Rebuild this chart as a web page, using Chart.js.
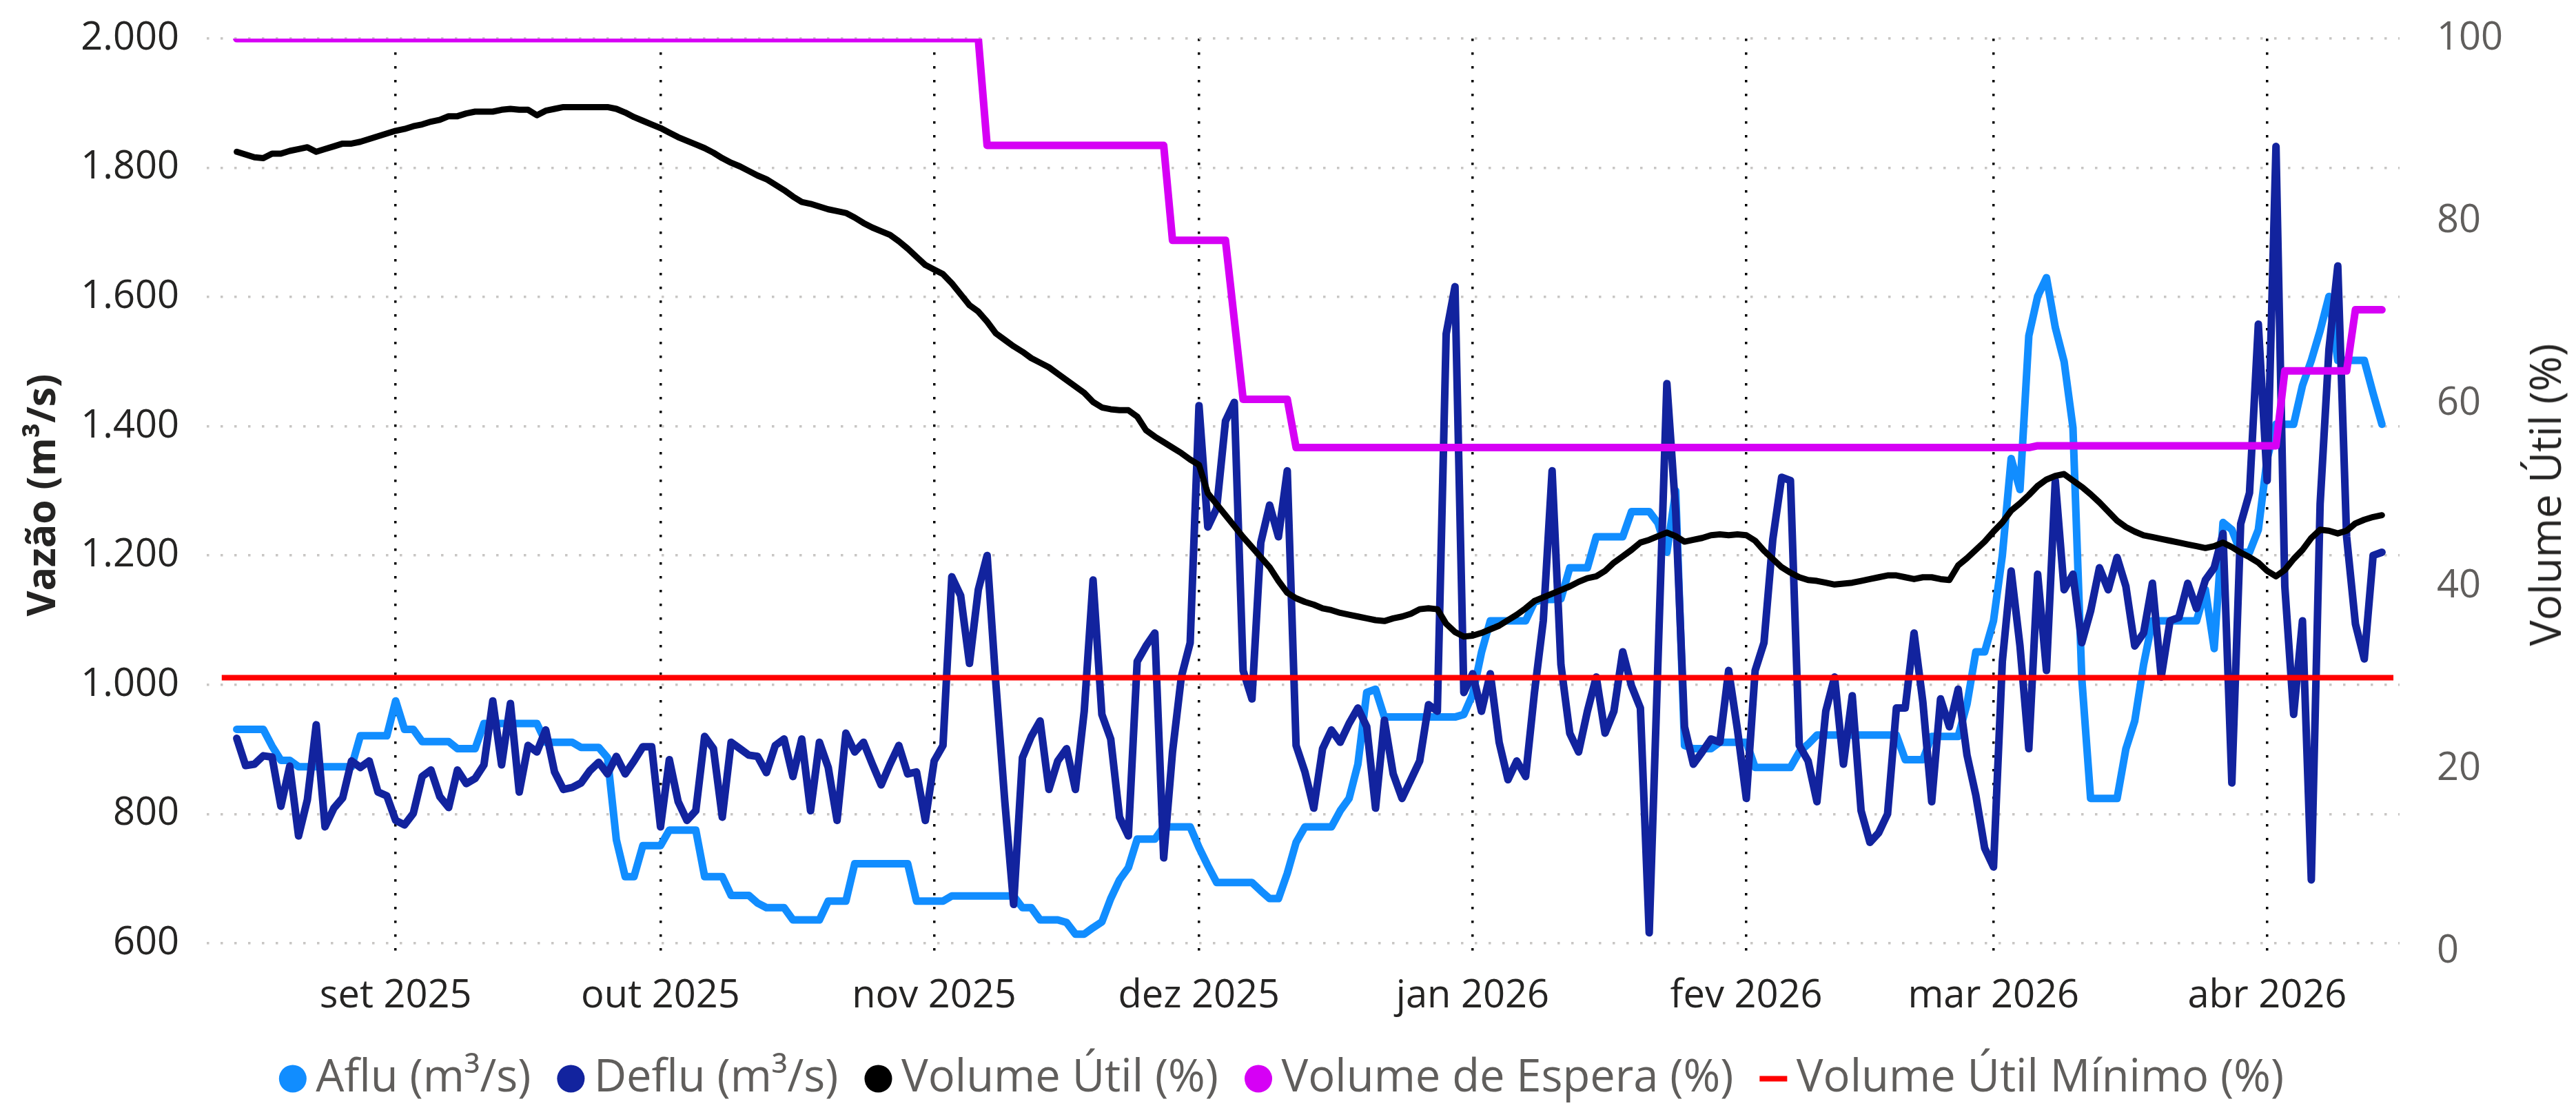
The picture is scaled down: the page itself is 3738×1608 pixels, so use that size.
<!DOCTYPE html>
<html lang="pt-BR">
<head>
<meta charset="utf-8">
<title>Vazão e Volume Útil</title>
<script src="https://cdn.jsdelivr.net/npm/chart.js@4.4.1/dist/chart.umd.min.js"></script>
<style>
    html, body { margin: 0; padding: 0; background: #fff; }
    #painel { position: relative; width: 3738px; height: 1608px; }
    #grafico { display: block; }
    /* titulo do eixo direito lido de baixo para cima, como no original */
    #tituloDireita {
        position: absolute;
        left: 3692px;
        top: 718px;
        transform: translate(-50%, -50%) rotate(-90deg);
        font-family: 'Segoe UI', 'Open Sans', sans-serif;
        font-size: 62px;
        color: #252423;
        white-space: nowrap;
    }
</style>
</head>
<body>
<div id="painel">
    <canvas id="grafico" width="3738" height="1608"></canvas>
    <div id="tituloDireita">Volume Útil (%)</div>
</div>
<script>
// ===== DADOS (um valor por dia, a partir de 14/08/2025) =====
const dataInicio = '2025-08-14';

const rotulosMeses = ['set 2025', 'out 2025', 'nov 2025', 'dez 2025', 'jan 2026', 'fev 2026', 'mar 2026', 'abr 2026'];
const inicioMeses = ['2025-09-01', '2025-10-01', '2025-11-01', '2025-12-01', '2026-01-01', '2026-02-01', '2026-03-01', '2026-04-01'];

const ticksVazao = [600, 800, 1000, 1200, 1400, 1600, 1800, 2000];
const ticksVolume = [0, 20, 40, 60, 80, 100];

// Aflu (m³/s)
const aflu = [
    931, 931, 931, 931, 905, 883, 883, 873, 873, 873, 873, 873, 873, 873, 921, 921, 921, 921, 975, 931,
    931, 912, 912, 912, 912, 901, 901, 901, 940, 940, 940, 940, 940, 940, 940, 911, 911, 911, 911, 903,
    903, 903, 887, 760, 703, 703, 751, 751, 751, 775, 775, 775, 775, 703, 703, 703, 674, 674, 674, 662,
    655, 655, 655, 636, 636, 636, 636, 665, 665, 665, 723, 723, 723, 723, 723, 723, 723, 665, 665, 665,
    665, 673, 673, 673, 673, 673, 673, 673, 673, 655, 655, 636, 636, 636, 632, 614, 614, 624, 633, 669,
    698, 717, 761, 761, 761, 780, 780, 780, 780, 748, 720, 694, 694, 694, 694, 694, 681, 669, 669, 708,
    756, 780, 780, 780, 780, 805, 824, 877, 988, 993, 950, 950, 950, 950, 950, 950, 950, 950, 950, 954,
    985, 1050, 1099, 1099, 1099, 1099, 1099, 1128, 1132, 1132, 1133, 1181, 1181, 1181, 1229, 1229, 1229, 1229, 1268, 1268,
    1268, 1250, 1205, 1300, 906, 901, 901, 901, 911, 911, 911, 911, 872, 872, 872, 872, 872, 896, 908, 922,
    922, 922, 922, 922, 922, 922, 922, 922, 922, 884, 884, 884, 920, 920, 920, 920, 970, 1051, 1051, 1099,
    1200, 1350, 1302, 1540, 1601, 1630, 1553, 1500, 1398, 1010, 824, 824, 824, 824, 901, 944, 1031, 1099, 1099, 1099,
    1099, 1099, 1099, 1147, 1056, 1251, 1240, 1205, 1205, 1240, 1350, 1403, 1403, 1403, 1463, 1502, 1548, 1601, 1502, 1502,
    1502, 1502, 1451, 1403
];

// Deflu (m³/s)
const deflu = [
    917, 875, 877, 890, 888, 812, 874, 766, 822, 938, 780, 809, 825, 882, 872, 882, 834, 828, 790, 783,
    801, 858, 868, 827, 810, 868, 847, 855, 876, 975, 876, 971, 834, 906, 896, 930, 865, 838, 841, 848,
    867, 880, 862, 889, 862, 882, 904, 904, 780, 884, 819, 790, 805, 920, 901, 795, 911, 901, 891, 889,
    864, 906, 916, 858, 916, 805, 911, 872, 790, 925, 896, 911, 877, 845, 877, 906, 862, 865, 790, 882,
    906, 1167, 1138, 1033, 1147, 1200, 1000, 820, 660, 887, 920, 944, 838, 882, 901, 838, 959, 1162, 954, 916,
    795, 766, 1036, 1060, 1080, 732, 896, 1012, 1065, 1432, 1244, 1273, 1408, 1437, 1022, 978, 1220, 1278, 1229, 1331,
    906, 865, 809, 901, 930, 911, 940, 964, 935, 809, 945, 862, 824, 853, 882, 969, 959, 1543, 1616, 988,
    1017, 959, 1017, 911, 853, 882, 858, 988, 1099, 1331, 1031, 925, 896, 959, 1012, 925, 959, 1051, 998, 964,
    616, 1040, 1466, 1268, 935, 877, 896, 916, 911, 1022, 930, 824, 1022, 1065, 1225, 1321, 1316, 906, 882, 819,
    959, 1012, 877, 983, 805, 756, 771, 800, 964, 964, 1080, 973, 819, 978, 935, 993, 891, 829, 747, 718,
    1036, 1176, 1060, 901, 1171, 1022, 1316, 1147, 1171, 1065, 1114, 1181, 1147, 1197, 1152, 1060, 1080, 1157, 1012, 1099,
    1104, 1157, 1118, 1162, 1181, 1234, 848, 1249, 1297, 1558, 1316, 1833, 1152, 954, 1099, 698, 1280, 1519, 1648, 1229,
    1094, 1040, 1200, 1205
];

// Volume Útil (%)
const volumeUtil = [
    87.6, 87.3, 87.0, 86.9, 87.4, 87.4, 87.7, 87.9, 88.1, 87.6, 87.9, 88.2, 88.5, 88.5, 88.7, 89.0, 89.3, 89.6, 89.9, 90.1,
    90.4, 90.6, 90.9, 91.1, 91.5, 91.5, 91.8, 92.0, 92.0, 92.0, 92.2, 92.3, 92.2, 92.2, 91.6, 92.1, 92.3, 92.5, 92.5, 92.5,
    92.5, 92.5, 92.5, 92.3, 91.9, 91.4, 91.0, 90.6, 90.2, 89.7, 89.2, 88.8, 88.4, 88.0, 87.5, 86.9, 86.4, 86.0, 85.5, 85.0,
    84.6, 84.0, 83.4, 82.7, 82.1, 81.9, 81.6, 81.3, 81.1, 80.9, 80.4, 79.8, 79.3, 78.9, 78.5, 77.8, 77.0, 76.1, 75.2, 74.7,
    74.2, 73.2, 72.0, 70.8, 70.1, 69.0, 67.7, 67.0, 66.3, 65.7, 65.0, 64.5, 64.0, 63.3, 62.6, 61.9, 61.2, 60.2, 59.6, 59.4,
    59.3, 59.3, 58.6, 57.1, 56.4, 55.8, 55.2, 54.6, 53.9, 53.3, 50.2, 49.0, 47.8, 46.6, 45.4, 44.3, 43.2, 42.1, 40.6, 39.3,
    38.7, 38.3, 38.0, 37.6, 37.4, 37.1, 36.9, 36.7, 36.5, 36.3, 36.2, 36.5, 36.7, 37.0, 37.5, 37.6, 37.5, 35.9, 35.0, 34.5,
    34.6, 34.9, 35.3, 35.7, 36.3, 36.9, 37.6, 38.4, 38.8, 39.2, 39.6, 40.0, 40.5, 40.9, 41.1, 41.7, 42.6, 43.3, 44.0, 44.8,
    45.1, 45.5, 45.9, 45.5, 44.9, 45.1, 45.3, 45.6, 45.7, 45.6, 45.7, 45.6, 45.0, 43.9, 43.0, 42.1, 41.5, 41.0, 40.7, 40.6,
    40.4, 40.2, 40.3, 40.4, 40.6, 40.8, 41.0, 41.2, 41.2, 41.0, 40.8, 41.0, 41.0, 40.8, 40.7, 42.3, 43.1, 44.0, 44.9, 46.0,
    47.0, 48.3, 49.1, 50.0, 51.0, 51.7, 52.1, 52.3, 51.6, 50.9, 50.1, 49.2, 48.2, 47.2, 46.5, 46.0, 45.6, 45.4, 45.2, 45.0,
    44.8, 44.6, 44.4, 44.2, 44.4, 44.8, 44.3, 43.7, 43.2, 42.6, 41.7, 41.1, 41.8, 43.0, 44.0, 45.3, 46.2, 46.1, 45.8, 46.1,
    46.9, 47.3, 47.6, 47.8
];

// Volume de Espera (%)
const volumeEspera = [
    100, 100, 100, 100, 100, 100, 100, 100, 100, 100, 100, 100, 100, 100, 100, 100, 100, 100, 100, 100,
    100, 100, 100, 100, 100, 100, 100, 100, 100, 100, 100, 100, 100, 100, 100, 100, 100, 100, 100, 100,
    100, 100, 100, 100, 100, 100, 100, 100, 100, 100, 100, 100, 100, 100, 100, 100, 100, 100, 100, 100,
    100, 100, 100, 100, 100, 100, 100, 100, 100, 100, 100, 100, 100, 100, 100, 100, 100, 100, 100, 100,
    100, 100, 100, 100, 100, 88.3, 88.3, 88.3, 88.3, 88.3, 88.3, 88.3, 88.3, 88.3, 88.3, 88.3, 88.3, 88.3, 88.3, 88.3,
    88.3, 88.3, 88.3, 88.3, 88.3, 88.3, 77.9, 77.9, 77.9, 77.9, 77.9, 77.9, 77.9, 69.2, 60.5, 60.5, 60.5, 60.5, 60.5, 60.5,
    55.2, 55.2, 55.2, 55.2, 55.2, 55.2, 55.2, 55.2, 55.2, 55.2, 55.2, 55.2, 55.2, 55.2, 55.2, 55.2, 55.2, 55.2, 55.2, 55.2,
    55.2, 55.2, 55.2, 55.2, 55.2, 55.2, 55.2, 55.2, 55.2, 55.2, 55.2, 55.2, 55.2, 55.2, 55.2, 55.2, 55.2, 55.2, 55.2, 55.2,
    55.2, 55.2, 55.2, 55.2, 55.2, 55.2, 55.2, 55.2, 55.2, 55.2, 55.2, 55.2, 55.2, 55.2, 55.2, 55.2, 55.2, 55.2, 55.2, 55.2,
    55.2, 55.2, 55.2, 55.2, 55.2, 55.2, 55.2, 55.2, 55.2, 55.2, 55.2, 55.2, 55.2, 55.2, 55.2, 55.2, 55.2, 55.2, 55.2, 55.2,
    55.2, 55.2, 55.2, 55.2, 55.4, 55.4, 55.4, 55.4, 55.4, 55.4, 55.4, 55.4, 55.4, 55.4, 55.4, 55.4, 55.4, 55.4, 55.4, 55.4,
    55.4, 55.4, 55.4, 55.4, 55.4, 55.4, 55.4, 55.4, 55.4, 55.4, 55.4, 55.4, 63.6, 63.6, 63.6, 63.6, 63.6, 63.6, 63.6, 63.6,
    70.3, 70.3, 70.3, 70.3
];

// Volume Útil Mínimo (%) - no original a linha passa um pouco das pontas da serie
const volumeUtilMinimo = 30;
const minimoDias = [-1.7, 244.3];

// faixa do eixo de datas (dias a partir do inicio)
const eixoXMin = -3.4;
const eixoXMax = 245;

// ===== FUNCOES AUXILIARES =====
const UM_DIA = 24 * 60 * 60 * 1000;

function diasDesdeInicio(dataIso) {
    return Math.round((Date.parse(dataIso) - Date.parse(dataInicio)) / UM_DIA);
}

function pontos(serie) {
    return serie.map(function (valor, i) {
        return { x: i, y: valor };
    });
}

function formatarMilhar(valor) {
    return String(valor).replace(/\B(?=(\d{3})+(?!\d))/g, '.');
}

// o Chart.js reserva meia altura de rotulo + padding acima/abaixo dos eixos y;
// aqui a margem de cima fica so com o layout.padding
function ajustarEixoY(largura) {
    return function (eixo) {
        eixo.width = largura;
        eixo.paddingTop = 0;
        eixo.paddingBottom = 0;
    };
}

const diasMeses = inicioMeses.map(diasDesdeInicio);

// ===== GRAFICO =====
function criarGrafico() {
    Chart.defaults.font.family = "'Segoe UI', 'Open Sans', sans-serif";

    const ctx = document.getElementById('grafico').getContext('2d');

    new Chart(ctx, {
        type: 'line',
        data: {
            datasets: [{
                label: 'Aflu (m³/s)',
                data: pontos(aflu),
                yAxisID: 'yVazao',
                borderColor: '#118DFF',
                borderWidth: 11,
                pointStyle: 'circle',
                order: 5
            }, {
                label: 'Deflu (m³/s)',
                data: pontos(deflu),
                yAxisID: 'yVazao',
                borderColor: '#12239E',
                borderWidth: 11,
                pointStyle: 'circle',
                order: 4
            }, {
                label: 'Volume Útil (%)',
                data: pontos(volumeUtil),
                yAxisID: 'yVolume',
                borderColor: '#000000',
                borderWidth: 9,
                pointStyle: 'circle',
                order: 3
            }, {
                label: 'Volume de Espera (%)',
                data: pontos(volumeEspera),
                yAxisID: 'yVolume',
                borderColor: '#D600F5',
                borderWidth: 11,
                pointStyle: 'circle',
                order: 2
            }, {
                label: 'Volume Útil Mínimo (%)',
                data: minimoDias.map(function (d) { return { x: d, y: volumeUtilMinimo }; }),
                yAxisID: 'yVolume',
                borderColor: '#FF0000',
                borderWidth: 8,
                borderCapStyle: 'butt',
                pointStyle: 'line',
                order: 1
            }]
        },
        options: {
            responsive: false,
            animation: false,
            devicePixelRatio: 1,
            layout: {
                padding: { top: 56, left: 0, right: 0, bottom: 0 }
            },
            elements: {
                line: {
                    tension: 0,
                    fill: false,
                    borderJoinStyle: 'round',
                    borderCapStyle: 'round'
                },
                point: { radius: 0, hoverRadius: 0 }
            },
            scales: {
                x: {
                    type: 'linear',
                    min: eixoXMin,
                    max: eixoXMax,
                    afterBuildTicks: function (eixo) {
                        eixo.ticks = diasMeses.map(function (d) { return { value: d }; });
                    },
                    afterFit: function (eixo) {
                        eixo.height = 95;
                    },
                    ticks: {
                        autoSkip: false,
                        maxRotation: 0,
                        padding: 31,
                        color: '#252423',
                        font: { size: 56 },
                        callback: function (valor) {
                            const i = diasMeses.indexOf(valor);
                            return i >= 0 ? rotulosMeses[i] : '';
                        }
                    },
                    grid: { color: '#000000', lineWidth: 3.5, drawTicks: false },
                    border: { display: false, dash: [3.5, 16.5] }
                },
                yVazao: {
                    position: 'left',
                    min: 587,
                    max: 2000,
                    afterBuildTicks: function (eixo) {
                        eixo.ticks = ticksVazao.map(function (v) { return { value: v }; });
                    },
                    afterFit: ajustarEixoY(300),
                    ticks: {
                        padding: 40,
                        color: '#252423',
                        font: { size: 56 },
                        callback: function (valor) { return formatarMilhar(valor); }
                    },
                    grid: { color: '#C8C6C4', lineWidth: 3.5, drawTicks: false },
                    border: { display: false, dash: [3.5, 16.5] },
                    title: {
                        display: true,
                        text: 'Vazão (m³/s)',
                        color: '#252423',
                        font: { size: 57, weight: 'bold' },
                        padding: { top: 30, bottom: 0 }
                    }
                },
                yVolume: {
                    position: 'right',
                    min: 0,
                    max: 100,
                    afterBuildTicks: function (eixo) {
                        eixo.ticks = ticksVolume.map(function (v) { return { value: v }; });
                    },
                    afterFit: ajustarEixoY(256),
                    ticks: {
                        padding: 54,
                        color: '#605E5C',
                        font: { size: 56 }
                    },
                    grid: { drawOnChartArea: false, drawTicks: false },
                    border: { display: false }
                }
            },
            plugins: {
                tooltip: { enabled: false },
                legend: {
                    position: 'bottom',
                    align: 'center',
                    labels: {
                        usePointStyle: true,
                        boxWidth: 2,
                        boxHeight: 28.3,
                        padding: 57,
                        color: '#605E5C',
                        font: { size: 65 },
                        generateLabels: function (chart) {
                            return chart.data.datasets.map(function (ds, i) {
                                const ehLinha = ds.pointStyle === 'line';
                                return {
                                    text: ds.label,
                                    fillStyle: ds.borderColor,
                                    strokeStyle: ds.borderColor,
                                    lineWidth: ehLinha ? 8 : 0,
                                    pointStyle: ds.pointStyle,
                                    fontColor: '#605E5C',
                                    hidden: false,
                                    datasetIndex: i
                                };
                            });
                        }
                    }
                }
            }
        }
    });

    console.log('[Grafico] Vazão e volume desenhados');
}

document.addEventListener('DOMContentLoaded', criarGrafico);
</script>
</body>
</html>
